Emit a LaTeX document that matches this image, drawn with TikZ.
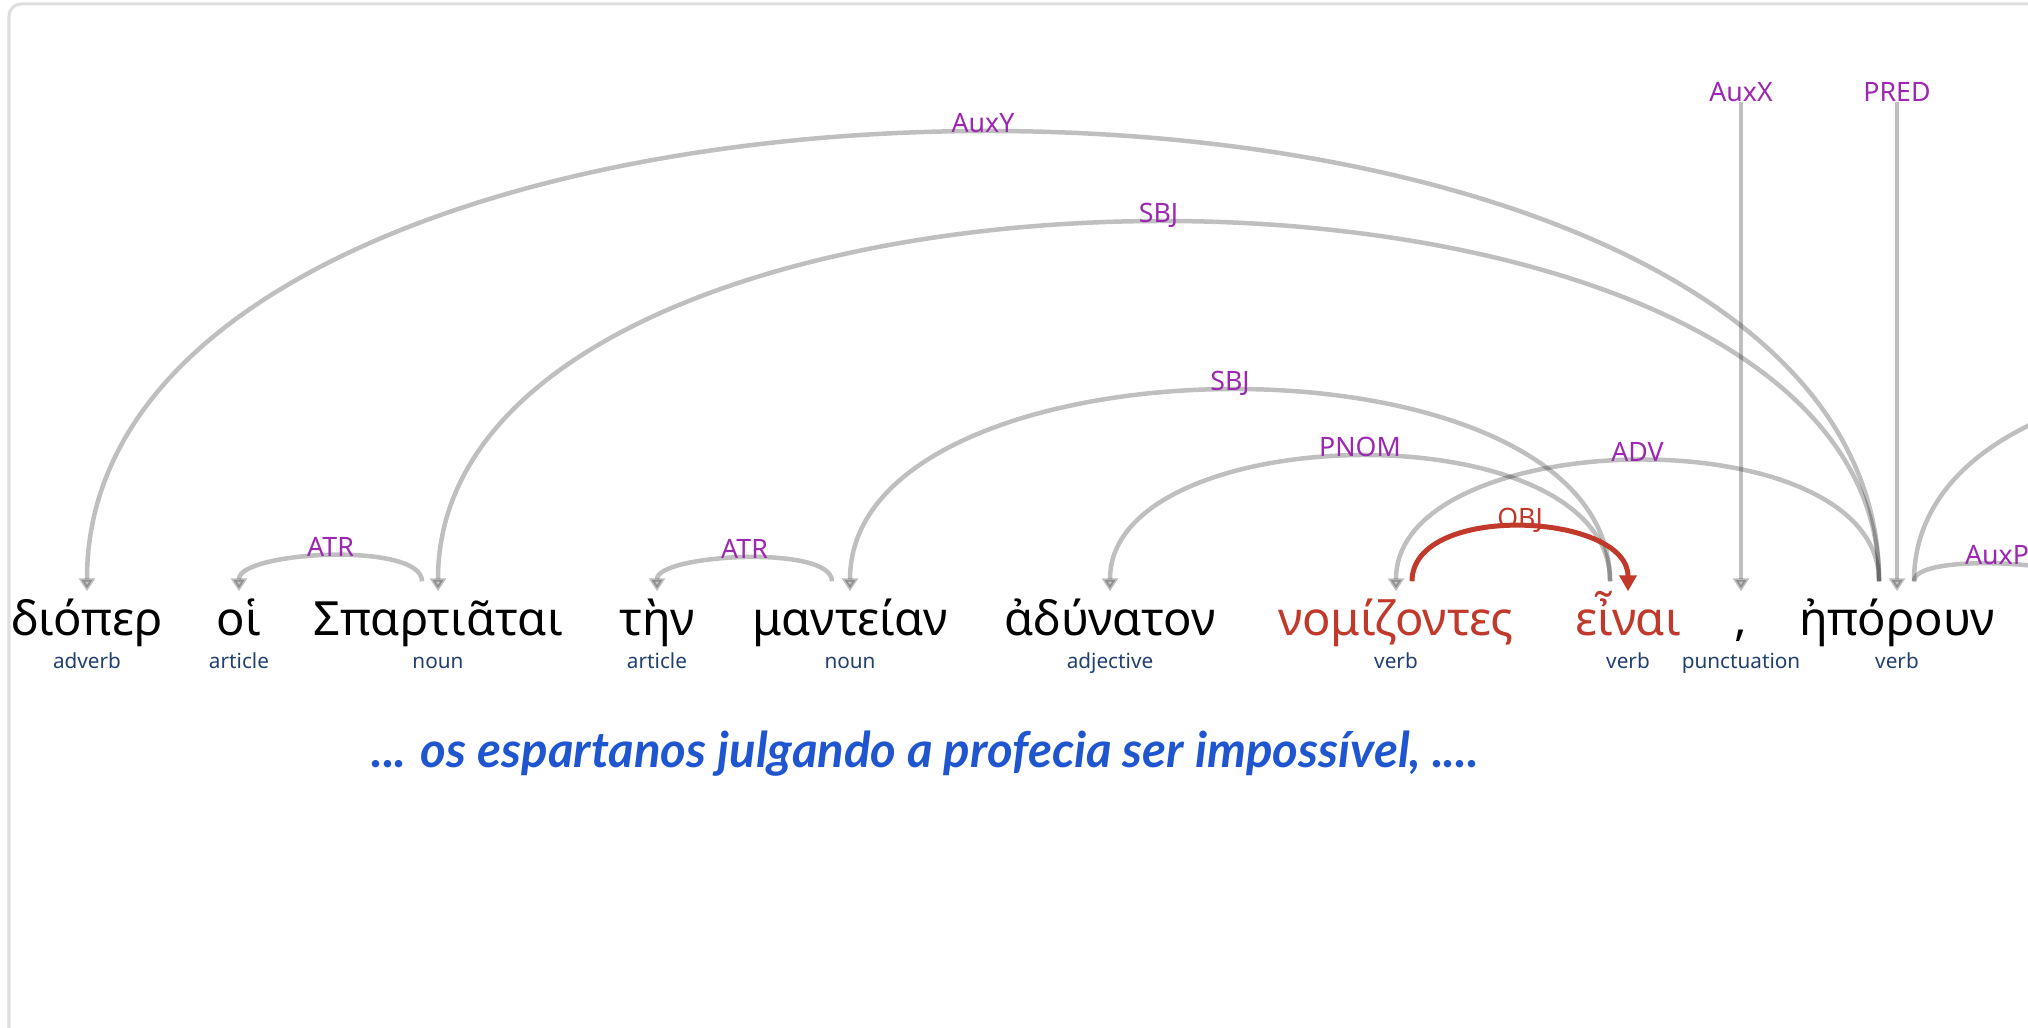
\documentclass[tikz,border=0pt]{standalone}
\usepackage{fontspec}
\usetikzlibrary{arrows.meta}
\newfontfamily\greekfont{Noto Sans}
\newfontfamily\transfont{Lato}
\definecolor{relpurple}{HTML}{9C27B0}
\definecolor{posblue}{HTML}{22406E}
\definecolor{hlred}{HTML}{C0392B}
\definecolor{transblue}{HTML}{1F56D0}
\definecolor{framegray}{HTML}{DEDEDE}

\begin{document}
\begin{tikzpicture}[x=0.01cm,y=-0.01cm,
	greekword/.style={anchor=base,inner sep=0pt,text height=0.43cm,font=\greekfont\fontsize{13.4pt}{15pt}\selectfont},
	postag/.style={anchor=base,inner sep=0pt,text=posblue,font=\greekfont\fontsize{5.9pt}{7pt}\selectfont},
	rellabel/.style={anchor=base,inner sep=0pt,opacity=1,text=relpurple,font=\greekfont\fontsize{7.6pt}{9pt}\selectfont},
	deparc/.style={line width=0.045cm,draw=black,opacity=0.25,-{Triangle[width=0.16cm,length=0.13cm]}},
	objarc/.style={line width=0.05cm,draw=hlred,-{Triangle[width=0.17cm,length=0.16cm]}}]
	\useasboundingbox (0,0) rectangle (2028,1028);
	\clip (0,0) rectangle (2028,1028);
	\draw[framegray,line width=0.03cm,rounded corners=0.12cm] (9,1100) -- (9,4) -- (2100,4);

	% words
	\node (diop) at (87,635) [greekword] {διόπερ};
	\node (hoi) at (239,635) [greekword] {οἱ};
	\node (spart) at (438,635) [greekword] {Σπαρτιᾶται};
	\node (ten) at (657,635) [greekword] {τὴν};
	\node (mant) at (850,635) [greekword] {μαντείαν};
	\node (adyn) at (1110,635) [greekword] {ἀδύνατον};
	\node (nomiz) at (1396,635) [greekword,text=hlred] {νομίζοντες};
	\node (einai) at (1628,635) [greekword,text=hlred] {εἶναι};
	\node (comma) at (1741,635) [greekword] {,};
	\node (epor) at (1897,635) [greekword] {ἠπόρουν};

	% part of speech
	\node (pdiop) at (87,668) [postag] {adverb};
	\node (phoi) at (239,668) [postag] {article};
	\node (pspart) at (438,668) [postag] {noun};
	\node (pten) at (657,668) [postag] {article};
	\node (pmant) at (850,668) [postag] {noun};
	\node (padyn) at (1110,668) [postag] {adjective};
	\node (pnomiz) at (1396,668) [postag] {verb};
	\node (peinai) at (1628,668) [postag] {verb};
	\node (pcomma) at (1741,668) [postag] {punctuation};
	\node (pepor) at (1897,668) [postag] {verb};

	\node (trans) at (925,767) [anchor=base,inner sep=0pt,text=transblue,font=\transfont\bfseries\itshape\fontsize{14pt}{16pt}\selectfont] {... os espartanos julgando a profecia ser impossível, ....};

	% free ends
	\coordinate (auxx) at (1741,102);
	\coordinate (pred) at (1897,102);
	\coordinate (offp) at (2080,592);
	\coordinate (offq) at (2615,592);

	% arcs
	\draw[deparc] ([shift={(-18,-10)}]epor.north) .. controls +(0,-605) and +(0,-605) .. (diop.north) node[rellabel,pos=.5] {AuxY};
	\draw[deparc] ([shift={(-18,-10)}]epor.north) .. controls +(0,-485) and +(0,-485) .. (spart.north) node[rellabel,pos=.5] {SBJ};
	\draw[deparc] ([shift={(-18,-10)}]epor.north) .. controls +(0,-167) and +(0,-167) .. (nomiz.north) node[rellabel,pos=.5] {ADV};
	\draw[deparc] ([shift={(-18,-10)}]einai.north) .. controls +(0,-261) and +(0,-261) .. (mant.north) node[rellabel,pos=.5] {SBJ};
	\draw[deparc] ([shift={(-18,-10)}]einai.north) .. controls +(0,-173) and +(0,-173) .. (adyn.north) node[rellabel,pos=.5] {PNOM};
	\draw[deparc] ([shift={(-16,-10)}]spart.north) .. controls +(0,-40) and +(0,-40) .. (hoi.north) node[rellabel,pos=.5] {ATR};
	\draw[deparc] ([shift={(-18,-10)}]mant.north) .. controls +(0,-37) and +(0,-37) .. (ten.north) node[rellabel,pos=.5] {ATR};
	\draw[deparc] (auxx) node[rellabel] {AuxX} -- (comma.north);
	\draw[deparc] (pred) node[rellabel] {PRED} -- (epor.north);
	\draw[deparc] ([shift={(17,-10)}]epor.north) .. controls +(0,-29) and +(0,-29) .. (offp) node[rellabel,pos=.5] {AuxP};
	\draw[deparc] ([shift={(17,-10)}]epor.north) .. controls +(0,-275) and +(0,-275) .. (offq);
	\draw[objarc] ([shift={(16,-10)}]nomiz.north) .. controls +(0,-79) and +(0,-79) .. (einai.north) node[rellabel,pos=.5,text=hlred] {OBJ};
\end{tikzpicture}
\end{document}
